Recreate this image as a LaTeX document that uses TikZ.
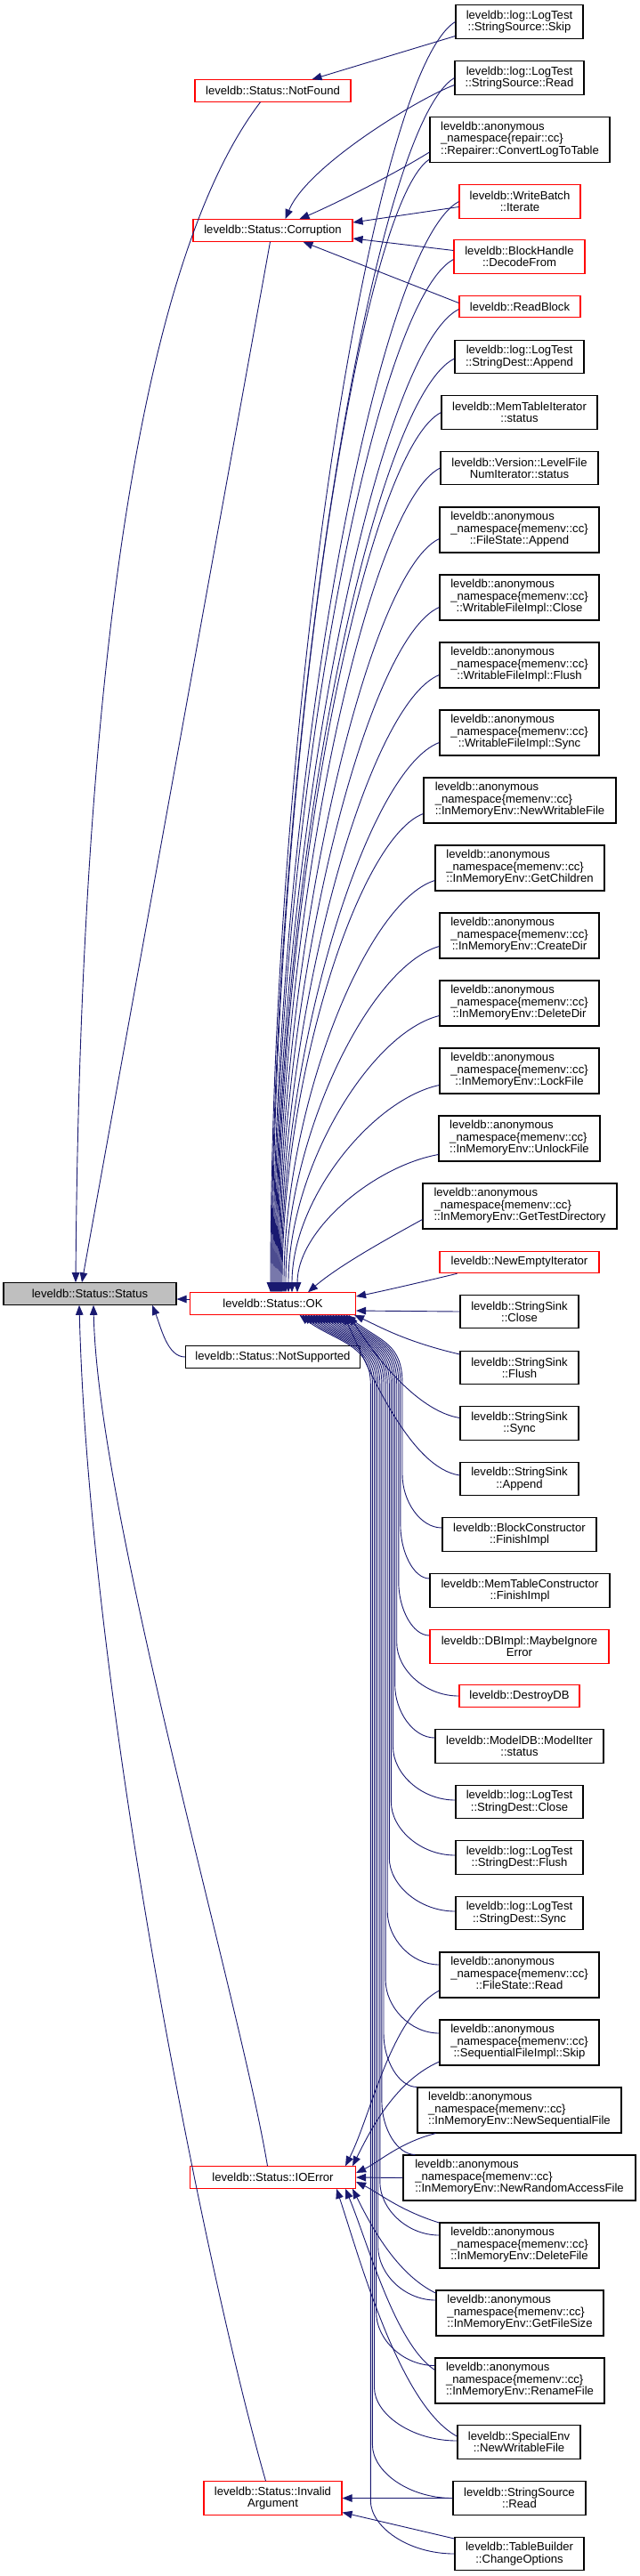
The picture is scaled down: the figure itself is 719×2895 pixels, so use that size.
\documentclass[tikz,border=0pt]{standalone}
\usepackage{fontspec}
\setmainfont{Liberation Sans}
\usetikzlibrary{arrows.meta,calc}
\definecolor{navy}{RGB}{25,25,112}
\definecolor{rootgray}{RGB}{191,191,191}
\newcommand\nfont{\fontsize{13.1}{13.3}\selectfont}
\newcommand\tri[3]{\begin{tabular}{@{}l@{}}#1\\#2\\\multicolumn{1}{@{}c@{}}{#3}\end{tabular}}
\newcommand\mem[1]{\tri{leveldb::anonymous}{\_namespace\{memenv::cc\}}{#1}}
\newcommand\upok[6]{\draw[e] ([yshift=#2pt]#1.west) .. controls +(#4,#5) and +(0,#6) .. ([xshift=#3pt]ok.north);}
\newcommand\lowok[3]{\draw[e] let \p1=(#1) in (\p1) .. controls +({-0.55*(\x1-#2pt)},0pt) and +(0,30) .. (#2pt,{\y1+60pt}) -- (#2pt,-1555pt) .. controls +(0,-45) and +(40,30) .. ([xshift=#3pt]ok.south);}
\begin{document}
\begin{tikzpicture}[x=1pt,y=-1pt,
  nb/.style={draw=black, fill=white, line width=1.1pt, inner sep=0pt, font=\nfont, align=center},
  nr/.style={nb, draw=red},
  ng/.style={nb, fill=rootgray},
  h1/.style={minimum height=24.5pt},
  h2/.style={minimum height=37.5pt},
  h3/.style={minimum height=51pt},
  e/.style={draw=navy, line width=0.9pt, -{Triangle[length=11pt,width=8.5pt]}}]
\fill[white] (0,0) rectangle (719,2895);
\useasboundingbox (0,0) rectangle (719,2895);

% ---- left and middle column
\node[ng,h1,minimum width=194pt] (st) at (101,1454) {leveldb::Status::Status};
\node[nr,h1,minimum width=175pt] (nf) at (306.5,102) {leveldb::Status::NotFound};
\node[nr,h1,minimum width=179pt] (co) at (306.5,259) {leveldb::Status::Corruption};
\node[nr,h1,minimum width=186pt] (ok) at (306.5,1465) {leveldb::Status::OK};
\node[nb,h1,minimum width=196pt] (ns) at (306.5,1525) {leveldb::Status::NotSupported};
\node[nr,h1,minimum width=186pt] (io) at (306.5,2447) {leveldb::Status::IOError};
\node[nr,h2,minimum width=155pt] (ia) at (306.5,2807.5) {leveldb::Status::Invalid\\Argument};

% ---- right column
\node[nb,h2,minimum width=143pt] (n1) at (583.5,24.5) {leveldb::log::LogTest\\::StringSource::Skip};
\node[nb,h2,minimum width=145pt] (n2) at (583.5,87.5) {leveldb::log::LogTest\\::StringSource::Read};
\node[nb,h3,minimum width=202pt] (n3) at (584,157) {\tri{leveldb::anonymous}{\_namespace\{repair::cc\}}{::Repairer::ConvertLogToTable}};
\node[nr,h2,minimum width=136pt] (n4) at (584,226.5) {leveldb::WriteBatch\\::Iterate};
\node[nr,h2,minimum width=147pt] (n5) at (583.5,288.5) {leveldb::BlockHandle\\::DecodeFrom};
\node[nr,h1,minimum width=136pt] (n6) at (584,344.5) {leveldb::ReadBlock};
\node[nb,h2,minimum width=145pt] (n7) at (583.5,401) {leveldb::log::LogTest\\::StringDest::Append};
\node[nb,h2,minimum width=175pt] (n8) at (583.5,463.5) {leveldb::MemTableIterator\\::status};
\node[nb,h2,minimum width=177pt] (n9) at (583.5,526) {leveldb::Version::LevelFile\\NumIterator::status};
\node[nb,h3,minimum width=179pt] (n10) at (583.5,595.5) {\mem{::FileState::Append}};
\node[nb,h3,minimum width=179pt] (n11) at (583.5,671.5) {\mem{::WritableFileImpl::Close}};
\node[nb,h3,minimum width=179pt] (n12) at (583.5,747.5) {\mem{::WritableFileImpl::Flush}};
\node[nb,h3,minimum width=179pt] (n13) at (583.5,823.5) {\mem{::WritableFileImpl::Sync}};
\node[nb,h3,minimum width=216pt] (n14) at (584,899.5) {\mem{::InMemoryEnv::NewWritableFile}};
\node[nb,h3,minimum width=190pt] (n15) at (584,975.5) {\mem{::InMemoryEnv::GetChildren}};
\node[nb,h3,minimum width=179pt] (n16) at (583.5,1051.5) {\mem{::InMemoryEnv::CreateDir}};
\node[nb,h3,minimum width=179pt] (n17) at (583.5,1127.5) {\mem{::InMemoryEnv::DeleteDir}};
\node[nb,h3,minimum width=179pt] (n18) at (583.5,1203.5) {\mem{::InMemoryEnv::LockFile}};
\node[nb,h3,minimum width=181pt] (n19) at (583.5,1279.5) {\mem{::InMemoryEnv::UnlockFile}};
\node[nb,h3,minimum width=218pt] (n20) at (584,1355.5) {\mem{::InMemoryEnv::GetTestDirectory}};
\node[nr,h1,minimum width=179pt] (n21) at (583.5,1418.5) {leveldb::NewEmptyIterator};
\node[nb,h2,minimum width=133pt] (n22) at (583.5,1474) {leveldb::StringSink\\::Close};
\node[nb,h2,minimum width=133pt] (n23) at (583.5,1537) {leveldb::StringSink\\::Flush};
\node[nb,h2,minimum width=133pt] (n24) at (583.5,1599.5) {leveldb::StringSink\\::Sync};
\node[nb,h2,minimum width=133pt] (n25) at (583.5,1662) {leveldb::StringSink\\::Append};
\node[nb,h2,minimum width=173pt] (n26) at (583.5,1724.5) {leveldb::BlockConstructor\\::FinishImpl};
\node[nb,h2,minimum width=202pt] (n27) at (584,1787.5) {leveldb::MemTableConstructor\\::FinishImpl};
\node[nr,h2,minimum width=201pt] (n28) at (583.5,1850.5) {leveldb::DBImpl::MaybeIgnore\\Error};
\node[nr,h1,minimum width=135pt] (n29) at (583.5,1906) {leveldb::DestroyDB};
\node[nb,h2,minimum width=189pt] (n30) at (583.5,1962.5) {leveldb::ModelDB::ModelIter\\::status};
\node[nb,h2,minimum width=143pt] (n31) at (583.5,2025) {leveldb::log::LogTest\\::StringDest::Close};
\node[nb,h2,minimum width=143pt] (n32) at (583.5,2087.5) {leveldb::log::LogTest\\::StringDest::Flush};
\node[nb,h2,minimum width=143pt] (n33) at (583.5,2150) {leveldb::log::LogTest\\::StringDest::Sync};
\node[nb,h3,minimum width=179pt] (n34) at (583.5,2219.5) {\mem{::FileState::Read}};
\node[nb,h3,minimum width=179pt] (n35) at (583.5,2295.5) {\mem{::SequentialFileImpl::Skip}};
\node[nb,h3,minimum width=229pt] (n36) at (583.5,2371.5) {\mem{::InMemoryEnv::NewSequentialFile}};
\node[nb,h3,minimum width=261pt] (n37) at (583.5,2447.5) {\mem{::InMemoryEnv::NewRandomAccessFile}};
\node[nb,h3,minimum width=179pt] (n38) at (583.5,2523.5) {\mem{::InMemoryEnv::DeleteFile}};
\node[nb,h3,minimum width=188pt] (n39) at (584,2599.5) {\mem{::InMemoryEnv::GetFileSize}};
\node[nb,h3,minimum width=190pt] (n40) at (584,2675.5) {\mem{::InMemoryEnv::RenameFile}};
\node[nb,h2,minimum width=138pt] (n41) at (583,2744.5) {leveldb::SpecialEnv\\::NewWritableFile};
\node[nb,h2,minimum width=149pt] (n42) at (583.5,2807.5) {leveldb::StringSource\\::Read};
\node[nb,h2,minimum width=145pt] (n43) at (583.5,2870) {leveldb::TableBuilder\\::ChangeOptions};

% ---- edges into Status::Status
\draw[e] ([xshift=-14pt]nf.south) .. controls +(-142,186) and +(5,-642) .. ([xshift=-16pt]st.north);
\draw[e] ([xshift=-3pt]co.south) .. controls +(-36,200) and +(45,-250) .. ([xshift=-9pt]st.north);
\draw[e] ([yshift=5pt]ok.west) -- ([yshift=-6pt]st.east);
\draw[e] (ns.west) .. controls +(-20,0) and +(10,25) .. ([xshift=70pt]st.south);
\draw[e] ([xshift=-6pt]io.north) .. controls +(-30.5,-185) and +(5,234) .. ([xshift=4pt]st.south);
\draw[e] ([xshift=-8pt]ia.north) .. controls +(-68.5,-239) and +(11,434) .. ([xshift=-12pt]st.south);

% ---- NotFound / Corruption
\draw[e] ([yshift=-16pt]n1.west) -- ([xshift=44pt]nf.north);
\draw[e] ([yshift=-8pt]n2.west) .. controls +(-40,15) and +(25,-60) .. ([xshift=14pt]co.north);
\draw[e] ([yshift=-14pt]n3.west) .. controls +(-40,25) and +(40,-17) .. ([xshift=30pt]co.north);
\draw[e] ([yshift=-6pt]n4.west) -- ([yshift=9pt]co.east);
\draw[e] ([yshift=7pt]n5.west) -- ([yshift=-9pt]co.east);
\draw[e] ([yshift=4pt]n6.west) -- ([xshift=34pt]co.south);

% ---- into OK from above
\upok{n1}{0}{-2.5}{-94}{58}{-643}
\upok{n2}{0}{-1.5}{-93}{56}{-614}
\upok{n3}{-22}{-0.5}{-80}{53}{-573}
\upok{n4}{0}{0.5}{-94}{51}{-552}
\upok{n5}{-3}{1.5}{-91}{49}{-523}
\upok{n6}{-3}{2.5}{-93}{47}{-497}
\upok{n7}{-2}{3.5}{-90}{45}{-473}
\upok{n8}{0}{4.5}{-83}{43}{-445}
\upok{n9}{0}{5.5}{-82}{40}{-417}
\upok{n10}{-10}{6.5}{-81}{38}{-381}
\upok{n11}{-11}{7.5}{-81}{35}{-346}
\upok{n12}{-11}{8.5}{-80}{32}{-312}
\upok{n13}{-11}{9.5}{-80}{30}{-278}
\upok{n14}{-15}{10.5}{-72}{27}{-242}
\upok{n15}{-14}{12.5}{-77}{24}{-209}
\upok{n16}{-12}{14.5}{-78}{22}{-175}
\upok{n17}{-14}{17.5}{-77}{19}{-140}
\upok{n18}{-16}{21.5}{-75}{16}{-105}
\upok{n19}{-18}{27.5}{-72}{13}{-70}
\draw[e] ([yshift=-15pt]n20.west) .. controls +(-40,22) and +(35,-30) .. ([xshift=39.5pt]ok.north);
\draw[e] ([xshift=20pt]n21.south west) .. controls +(-50,12) and +(25,-5) .. ([yshift=8pt]ok.east);

% ---- into OK from below
\draw[e] (n22.west) -- ([yshift=-8pt]ok.east);
\draw[e] ([yshift=15pt]n23.west) .. controls +(-60,-14) and +(30,14) .. ([xshift=-2pt]ok.south east);
\draw[e] ([yshift=6pt]n24.west) .. controls +(-50,-8) and +(25,40) .. ([xshift=-8pt]ok.south east);
\draw[e] ([yshift=4pt]n25.west) .. controls +(-55,-8) and +(30,65) .. ([xshift=-14pt]ok.south east);
\lowok{[yshift=7.5pt]n26.west}{452}{82}
\lowok{[yshift=13.5pt]n27.west}{449.9}{78.9}
\lowok{[yshift=12.5pt]n28.west}{447.8}{75.9}
\lowok{n29.west}{445.7}{72.8}
\lowok{[yshift=9.5pt]n30.west}{443.6}{69.8}
\lowok{[yshift=2pt]n31.west}{441.5}{66.7}
\lowok{[yshift=2.5pt]n32.west}{439.4}{63.6}
\lowok{[yshift=2pt]n33.west}{437.3}{60.6}
\lowok{[yshift=11.5pt]n34.west}{435.2}{57.5}
\lowok{[yshift=10.5pt]n35.west}{433.1}{54.5}
\lowok{n36.north west}{431}{51.4}
\lowok{[xshift=14pt]n37.north west}{428.9}{48.3}
\lowok{[yshift=11.5pt]n38.west}{426.8}{45.3}
\lowok{[yshift=14.5pt]n39.west}{424.7}{42.2}
\lowok{[yshift=17pt]n40.west}{422.6}{39.2}
\lowok{[yshift=1.5pt]n41.west}{420.5}{36.1}
\lowok{n42.west}{418.4}{33}
\lowok{n43.west}{416.3}{30}

% ---- into IOError
\draw[e] ([yshift=-17.5pt]n34.west) .. controls +(-55,30) and +(30,-60) .. ([xshift=-12pt]io.north east);
\draw[e] ([yshift=-21.5pt]n35.west) .. controls +(-50,22) and +(20,-40) .. ([xshift=-4pt]io.north east);
\draw[e] ([xshift=21pt]n36.south west) .. controls +(-40,10) and +(25,-12) .. ([yshift=5pt]io.east);
\draw[e] (n37.west) -- (io.east);
\draw[e] ([yshift=25.5pt]n38.west) .. controls +(-45,-14) and +(25,12) .. ([yshift=-5pt]io.east);
\draw[e] ([yshift=22.5pt]n39.west) .. controls +(-45,-22) and +(20,40) .. ([xshift=-4pt]io.south east);
\draw[e] ([yshift=12pt]n40.west) .. controls +(-45,-30) and +(25,60) .. ([xshift=-12pt]io.south east);
\draw[e] ([yshift=6.5pt]n41.west) .. controls +(-65,-35) and +(25,75) .. ([xshift=-22pt]io.south east);

% ---- into InvalidArgument
\draw[e] (n42.west) -- (ia.east);
\draw[e] ([yshift=17pt]n43.west) -- ([yshift=-16pt]ia.east);
\end{tikzpicture}
\end{document}
